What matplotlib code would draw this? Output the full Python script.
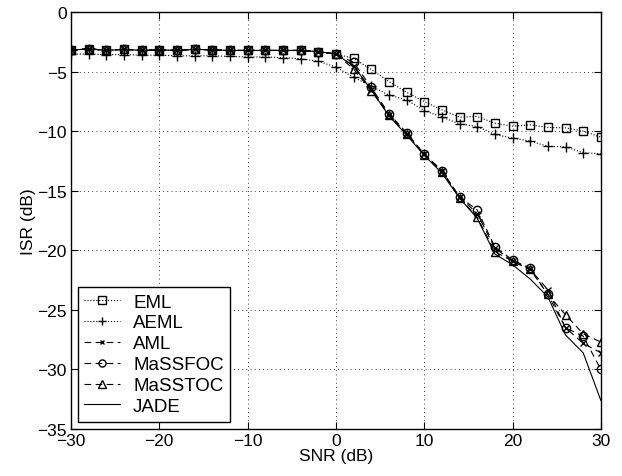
import numpy as np
import matplotlib
matplotlib.use("Agg")
import matplotlib.pyplot as plt

plt.rcParams['font.family'] = ['Liberation Sans', 'DejaVu Sans']

snr = np.arange(-30, 31, 2)

flat = [-3.2, -3.05, -3.2, -3.1, -3.2, -3.15, -3.2, -3.1, -3.15, -3.2, -3.2, -3.2, -3.2, -3.2, -3.3]

eml = flat + [-3.5, -3.86, -4.8, -5.81, -6.71, -7.49, -8.19, -8.8, -8.75, -9.31,
              -9.56, -9.45, -9.67, -9.7, -9.98, -10.48]
aeml = [-3.5, -3.5, -3.55, -3.55, -3.6, -3.6, -3.65, -3.65, -3.65, -3.7,
        -3.75, -3.75, -3.8, -3.9, -4.1,
        -4.6, -5.45, -6.2, -6.95, -7.35, -8.25, -8.8, -9.36, -9.59, -10.26,
        -10.56, -10.81, -11.26, -11.3, -11.79, -11.88]
aml = flat + [-3.5, -4.5, -6.5, -8.6, -10.2, -11.9, -13.3, -15.5, -16.9, -19.8,
              -20.9, -21.6, -23.3, -26.5, -27.8, -28.6]
massfoc = flat + [-3.5, -4.2, -6.3, -8.5, -10.1, -11.9, -13.3, -15.5, -16.6, -19.7,
                  -20.8, -21.5, -23.7, -26.5, -27.2, -30.0]
masstoc = flat + [-3.5, -4.75, -6.6, -8.6, -10.2, -12.0, -13.4, -15.6, -17.2, -20.1,
                  -20.9, -21.6, -23.7, -25.4, -27.0, -27.7]
jade = flat + [-3.5, -4.5, -6.5, -8.7, -10.3, -12.0, -13.5, -15.6, -17.3, -20.3,
               -21.2, -22.4, -23.9, -27.1, -28.6, -32.6]

fig = plt.figure(figsize=(6.22, 4.77), dpi=100)
ax = fig.add_axes([0.114, 0.0985, 0.852, 0.8735])

mk = dict(markerfacecolor='none', markeredgecolor='k', color='k', linewidth=0.8)
ax.plot(snr, eml, linestyle=':', marker='s', markersize=6, label='EML', **mk)
ax.plot(snr, aeml, linestyle=':', marker='+', markersize=7, label='AEML', **mk)
ax.plot(snr, aml, linestyle=(0, (6, 4)), marker='x', markersize=4, label='AML', **mk)
ax.plot(snr, massfoc, linestyle=(0, (6, 4)), marker='o', markersize=6, label='MaSSFOC', **mk)
ax.plot(snr, masstoc, linestyle=(0, (6, 4)), marker='^', markersize=6, label='MaSSTOC', **mk)
ax.plot(snr, jade, linestyle='-', label='JADE', color='k', linewidth=0.8)

ax.set_xlim(-30, 30)
ax.set_ylim(-35, 0)
ax.set_xticks(np.arange(-30, 31, 10))
ax.set_yticks(np.arange(-35, 1, 5))
ax.set_xticklabels(['\u221230', '\u221220', '\u221210', '0', '10', '20', '30'])
ax.set_yticklabels(['\u221235', '\u221230', '\u221225', '\u221220', '\u221215', '\u221210', '\u22125', '0'])
ax.tick_params(direction='in', top=True, right=True, labelsize=12.5, length=5, width=0.8, pad=3)
ax.grid(True, linestyle=(0, (1, 4)), color='k', linewidth=0.6)
for s in ax.spines.values():
    s.set_linewidth(1.0)

ax.set_xlabel('SNR (dB)', fontsize=12.5, labelpad=0)
ax.set_ylabel('ISR (dB)', fontsize=12.5, labelpad=1)

leg = ax.legend(loc='lower left', bbox_to_anchor=(0.006, 0.009), fontsize=13.5,
                fancybox=False, framealpha=1, edgecolor='k', borderpad=0.35,
                labelspacing=0.2, handlelength=1.9, handletextpad=0.7,
                borderaxespad=0.2, markerscale=0.85)
leg.get_frame().set_linewidth(1.0)

fig.savefig('out.png', dpi=100)
